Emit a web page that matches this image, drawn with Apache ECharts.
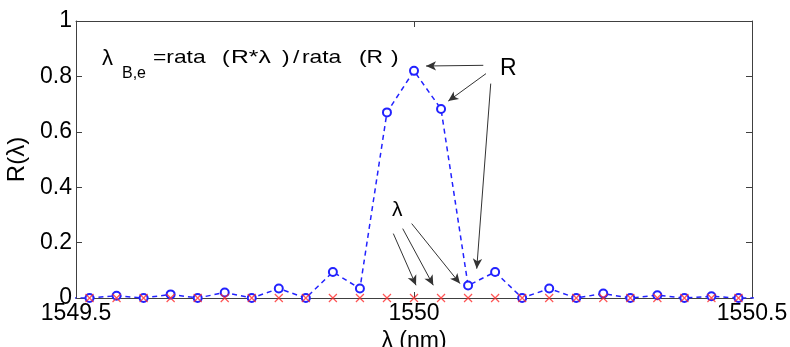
<!DOCTYPE html>
<html>
<head>
<meta charset="utf-8">
<script src="https://cdn.jsdelivr.net/npm/echarts@6/dist/echarts.min.js"></script>
<style>
html,body{margin:0;padding:0;background:#fff;}
#chart{width:790px;height:347px;}
</style>
</head>
<body>
<div id="chart"></div>
<script>
// wavelength samples (nm)
var lambdaNm = [1549.48, 1549.52, 1549.56, 1549.60, 1549.64, 1549.68, 1549.72, 1549.76, 1549.80,
                1549.84, 1549.88, 1549.92, 1549.96, 1550.00, 1550.04, 1550.08, 1550.12, 1550.16,
                1550.20, 1550.24, 1550.28, 1550.32, 1550.36, 1550.40, 1550.44, 1550.48, 1550.52];
// reflectance R(lambda)
var reflect = [0, 0, 0.008, 0, 0.013, 0, 0.02, 0, 0.034,
               0, 0.094, 0.034, 0.67, 0.82, 0.682, 0.045, 0.094, 0,
               0.034, 0, 0.016, 0, 0.01, 0, 0.006, 0, 0];
// sample positions marked with x on the axis
var sampleMarks = [0, 0, 0, 0, 0, 0, 0, 0, 0,
                   0, 0, 0, 0, 0, 0, 0, 0, 0,
                   0, 0, 0, 0, 0, 0, 0, 0, 0];
var xTicks = [1549.5, 1550, 1550.5];
var yTicks = [0, 0.2, 0.4, 0.6, 0.8, 1];

// annotation arrows (data coordinates): [x1, y1, x2, y2]
var arrowsR = [
  [1550.1025, 0.840, 1550.0178, 0.8375],
  [1550.1065, 0.810, 1550.0507, 0.711],
  [1550.1135, 0.774, 1550.0928, 0.106]
];
var arrowsL = [
  [1549.9694, 0.2325, 1550.003, 0.046],
  [1549.9833, 0.2505, 1550.0285, 0.046],
  [1549.9966, 0.2686, 1550.068, 0.052]
];

var FONT = 'Liberation Sans, Arial, sans-serif';
var AX = '#404040';

var blueData = lambdaNm.map(function (x, i) { return [x, reflect[i]]; });
var redData = lambdaNm.map(function (x, i) { return [x, sampleMarks[i]]; });
var arrowData = arrowsR.concat(arrowsL).map(function (a) {
  return [{ coord: [a[0], a[1]] }, { coord: [a[2], a[3]] }];
});

var chart = echarts.init(document.getElementById('chart'), null, { renderer: 'canvas' });
var xMin = xTicks[0], xMax = xTicks[xTicks.length - 1];
var yMin = yTicks[0], yMax = yTicks[yTicks.length - 1];

function txt(s, x, y, size, sx) {
  return { type: 'text', x: x, y: y, scaleX: sx || 1, originX: 0, originY: 0,
           style: { text: s, font: size + 'px ' + FONT, fill: '#000', verticalAlign: 'top', align: 'left' } };
}

chart.setOption({
  animation: false,
  backgroundColor: '#fff',
  grid: { left: 76, top: 21, right: 38, bottom: 49, outerBoundsMode: 'none', containLabel: false },
  xAxis: [{
    type: 'value', min: xMin, max: xMax, interval: 0.5, position: 'bottom',
    name: 'λ (nm)', nameLocation: 'middle', nameGap: 25,
    nameTextStyle: { fontFamily: FONT, fontSize: 23, color: '#000' },
    axisLine: { show: true, onZero: false, lineStyle: { color: AX, width: 1 } },
    axisTick: { show: true, inside: true, length: 6, lineStyle: { color: AX } },
    axisLabel: { fontFamily: FONT, fontSize: 23, color: '#000', margin: 4, hideOverlap: false,
                 showMinLabel: true, showMaxLabel: true,
                 formatter: function (v) { return String(v); } },
    splitLine: { show: false }
  }, {
    type: 'value', min: xMin, max: xMax, interval: 0.5, position: 'top',
    axisLine: { show: true, onZero: false, lineStyle: { color: AX, width: 1 } },
    axisTick: { show: true, inside: true, length: 6, lineStyle: { color: AX } },
    axisLabel: { show: false }, splitLine: { show: false }
  }],
  yAxis: [{
    type: 'value', min: yMin, max: yMax, interval: 0.2, position: 'left',
    name: 'R(λ)', nameLocation: 'middle', nameGap: 41, nameRotate: 90,
    nameTextStyle: { fontFamily: FONT, fontSize: 24, color: '#000' },
    axisLine: { show: true, onZero: false, lineStyle: { color: AX, width: 1 } },
    axisTick: { show: true, inside: true, length: 6, lineStyle: { color: AX } },
    axisLabel: { fontFamily: FONT, fontSize: 23, color: '#000', margin: 4, hideOverlap: false,
                 showMinLabel: true, showMaxLabel: true,
                 formatter: function (v) { return String(v); } },
    splitLine: { show: false }
  }, {
    type: 'value', min: yMin, max: yMax, interval: 0.2, position: 'right',
    axisLine: { show: true, onZero: false, lineStyle: { color: AX, width: 1 } },
    axisTick: { show: true, inside: true, length: 6, lineStyle: { color: AX } },
    axisLabel: { show: false }, splitLine: { show: false }
  }],
  series: [{
    type: 'line', name: 'R', data: blueData, clip: true,
    symbol: 'emptyCircle', symbolSize: 8, showAllSymbol: true,
    lineStyle: { color: '#2222ff', width: 1.5, type: [5, 4] },
    itemStyle: { color: '#2222ff', borderColor: '#2222ff', borderWidth: 1.3 },
    z: 3,
    markLine: {
      silent: true, animation: false,
      symbol: ['none', 'arrow'], symbolSize: [7, 10],
      lineStyle: { color: '#333333', width: 1, type: 'solid' },
      label: { show: false },
      emphasis: { disabled: true },
      data: arrowData
    }
  }, {
    type: 'scatter', name: 'lambda', data: redData, clip: true,
    symbol: 'path://M0,0L10,10M10,0L0,10', symbolSize: 8,
    itemStyle: { color: 'rgba(0,0,0,0)', borderColor: '#ff2a2a', borderWidth: 1.2 },
    z: 4
  }],
  graphic: [
    txt('λ', 102, 48, 22),
    txt('B,e', 122, 66, 16),
    txt('=rata', 153, 48, 19, 1.2),
    txt('(', 222, 48, 19, 1.2),
    txt('R*λ', 231, 48, 19, 1.3),
    txt(')', 282, 48, 19, 1.2),
    txt('/', 293, 48, 19, 1.2),
    txt('rata', 302, 48, 19, 1.2),
    txt('(R', 359, 48, 19, 1.2),
    txt(')', 391, 48, 19, 1.2),
    txt('R', 500, 57, 23),
    txt('λ', 392, 200, 21)
  ]
});
</script>
</body>
</html>
